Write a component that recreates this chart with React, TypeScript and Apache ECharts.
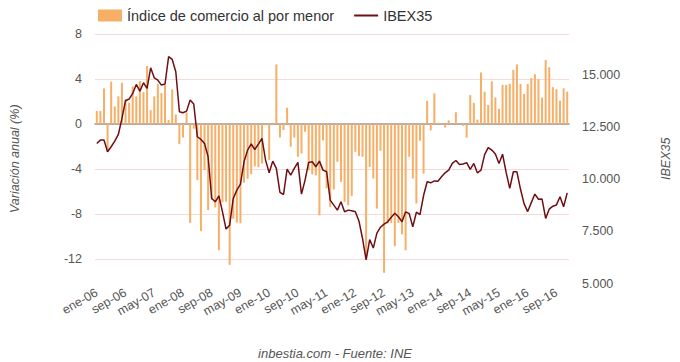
import React, { useEffect, useRef } from "react";
import * as echarts from "echarts";

const MONTHS = ["ene", "feb", "mar", "abr", "may", "jun", "jul", "ago", "sep", "oct", "nov", "dic"];
const YEARS = ["06", "07", "08", "09", "10", "11", "12", "13", "14", "15", "16"];
const categories: string[] = [];
YEARS.forEach((y) => MONTHS.forEach((m) => categories.push(`${m}-${y}`)));

const retailValues = [
  1.16, 1.16, 3.17, -2.46, 3.76, 1.57, 2.46, 3.67, 2.22, 1.9, 3.35, 2.46,
  3.82, 2.84, 5.16, 1.24, 2.46, 3.56, 2.76, 3.47, 0.36, 3.08, 0.86, -1.78,
  -1.19, 1.04, -8.77, -0.41, -4.97, -9.5, -4.07, -7.63, -6.7, -7.4, -11.2, -6.93,
  -6.88, -12.5, -8.4, -8.75, -8.8, -5.2, -4.85, -4.45, -3.75, -3.83, -3.5, -0.1,
  -3.2, 0.12, 5.3, -1.19, -0.53, 1.45, -2.0, -1.19, -2.9, -2.6, -0.68, -4.1,
  -4.45, -4.55, -8.1, -1.45, -5.7, -7.35, -5.8, -3.35, -5.13, -6.9, -7.2, -6.37,
  -2.46, -2.84, -2.9, -11.7, -3.8, -4.83, -7.5, -2.37, -13.2, -8.83, -8.77, -10.84,
  -8.77, -9.78, -11.2, -2.9, -4.83, -7.05, -1.48, -4.39, 2.07, -0.55, 2.73, 0.12,
  0.05, -0.3, 0.33, 0.0, 1.05, 0.0, -0.15, -1.2, 2.58, 1.88, 0.4, 4.58,
  2.88, 1.7, 3.8, 2.37, 1.35, 3.48, 3.48, 3.57, 4.82, 5.3, 3.57, 2.68,
  3.57, 4.08, 4.43, 3.99, 2.35, 5.7, 5.05, 3.28, 3.1, 2.08, 3.18, 2.88,
];

const ibexValues = [
  11720, 11880, 11880, 11320, 11560, 11830, 12150, 12920, 13770, 13850, 14120, 14550,
  14230, 14630, 14360, 15350, 14870, 14760, 14520, 14570, 15880, 15750, 15160, 13240,
  13190, 13270, 13800, 13610, 12040, 11910, 11720, 11080, 9080, 8920, 9200, 8440,
  7610, 7800, 9080, 9480, 9770, 10840, 11400, 11700, 11430, 11690, 11960, 10920,
  10310, 10870, 10520, 9370, 9270, 10490, 10200, 10520, 10810, 9290, 9960, 10810,
  10840, 10600, 10870, 10440, 10360, 9000, 8760, 8520, 8920, 8440, 8520, 8490,
  8440, 8000, 7160, 6130, 7110, 6700, 7420, 7700, 7850, 7960, 8180, 8370,
  8200, 7960, 8440, 8350, 7720, 8420, 8300, 9220, 9880, 9830, 9920, 9910,
  10120, 10310, 10440, 10760, 10900, 10710, 10730, 10800, 10480, 10760, 10300, 10440,
  11180, 11520, 11400, 11210, 10760, 11200, 10330, 9560, 10360, 10360, 9520, 8820,
  8450, 8880, 9290, 9040, 9050, 8120, 8570, 8710, 8770, 9160, 8680, 9350,
];

const leftTicks = [-12, -8, -4, 0, 4, 8];

const FONT = "'Liberation Sans', Arial, sans-serif";
const BAR_COLOR = "#f7ae66";
const LINE_COLOR = "#6e0f14";

const fmtThousands = (v: number) => String(Math.round(v)).replace(/\B(?=(\d{3})+(?!\d))/g, ".");

export default function App() {
  const ref = useRef<HTMLDivElement>(null);

  useEffect(() => {
    if (!ref.current) return;
    const chart = echarts.init(ref.current, null, { renderer: "svg" });
    chart.setOption({
      animation: false,
      backgroundColor: "#ffffff",
      textStyle: { fontFamily: FONT },
      grid: { left: 93, right: 103, top: 34, bottom: 78.5, containLabel: false },
      legend: {
        left: 93,
        top: 3,
        itemWidth: 24,
        itemHeight: 12,
        itemGap: 20,
        textStyle: { fontSize: 14.5, color: "#333333", fontFamily: FONT },
        data: [
          { name: "Índice de comercio al por menor", icon: "rect" },
          { name: "IBEX35", icon: "path://M0,0 H24 V2 H0 Z", itemStyle: { color: LINE_COLOR } },
        ],
      },
      xAxis: {
        type: "category",
        data: categories,
        boundaryGap: true,
        axisLine: { show: true, onZero: true, onZeroAxisIndex: 0, lineStyle: { color: "#9a9a9a", width: 1.5 } },
        axisTick: { show: false },
        axisLabel: {
          interval: 7,
          rotate: 30,
          color: "#555555",
          fontSize: 12.5,
          fontFamily: FONT,
          margin: 8,
        },
        splitLine: { show: false },
      },
      yAxis: [
        {
          type: "value",
          min: -14.15,
          max: 8,
          name: "Variación anual (%)",
          nameLocation: "middle",
          nameGap: 74,
          nameTextStyle: { fontStyle: "italic", fontSize: 12.5, color: "#555555", fontFamily: FONT },
          axisLine: { show: false },
          axisTick: { show: false, customValues: leftTicks },
          axisLabel: { customValues: leftTicks, color: "#555555", fontSize: 12.5, margin: 13, fontFamily: FONT },
          splitLine: { show: true, lineStyle: { color: "#f6d9d9", width: 1 } },
        },
        {
          type: "value",
          min: 5000,
          max: 16970,
          interval: 2500,
          name: "IBEX35",
          nameLocation: "middle",
          nameGap: 90,
          nameRotate: 90,
          nameTextStyle: { fontStyle: "italic", fontSize: 12.5, color: "#555555", fontFamily: FONT },
          axisLine: { show: false },
          axisTick: { show: false },
          axisLabel: {
            color: "#555555",
            fontSize: 12.5,
            margin: 13,
            fontFamily: FONT,
            showMaxLabel: false,
            formatter: (v: number) => fmtThousands(v),
          },
          splitLine: { show: false },
        },
      ],
      series: [
        {
          name: "Índice de comercio al por menor",
          type: "bar",
          yAxisIndex: 0,
          data: retailValues,
          barWidth: 2,
          itemStyle: { color: BAR_COLOR },
          z: 2,
        },
        {
          name: "IBEX35",
          type: "line",
          yAxisIndex: 1,
          data: ibexValues,
          symbol: "none",
          showSymbol: false,
          lineStyle: { color: LINE_COLOR, width: 1.5 },
          itemStyle: { color: LINE_COLOR },
          z: 3,
        },
      ],
      graphic: [
        {
          type: "text",
          x: 335,
          y: 353,
          style: {
            text: "inbestia.com - Fuente: INE",
            fill: "#555555",
            font: `italic 13px ${FONT}`,
            textAlign: "center",
            textVerticalAlign: "middle",
          },
        },
      ],
    });
    return () => chart.dispose();
  }, []);

  return (
    <div
      ref={ref}
      style={{ position: "absolute", left: 0, top: 0, width: 680, height: 362 }}
    />
  );
}
